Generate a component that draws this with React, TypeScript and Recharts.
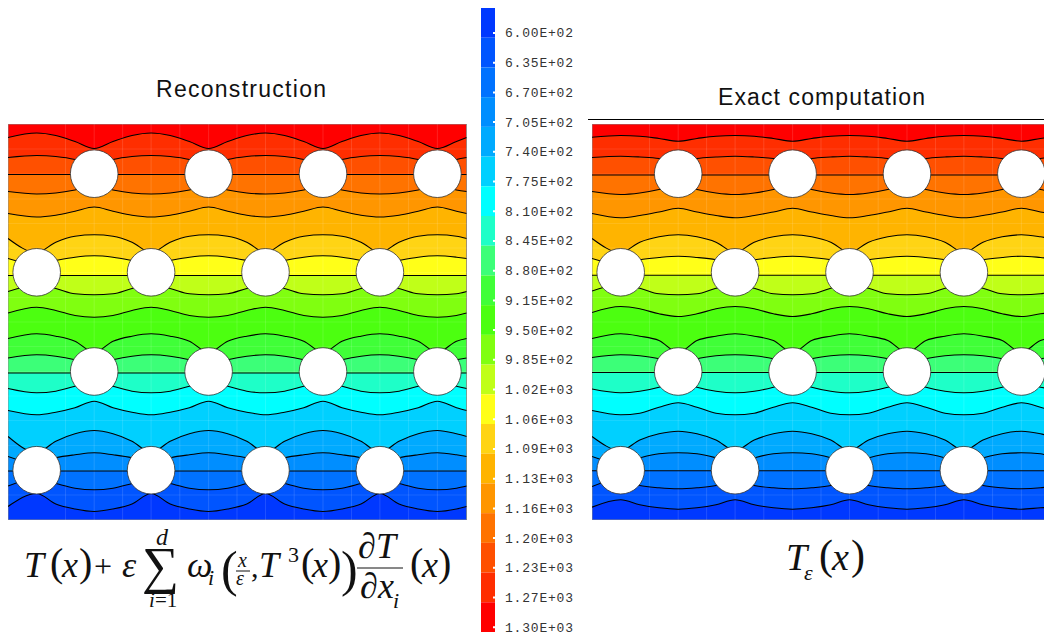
import React from "react";
import { ComposedChart, BarChart, Area, Line, Bar, Scatter, XAxis, YAxis, ReferenceArea, ReferenceLine } from "recharts";

const sampleX = [0, 28.7, 47.8, 67, 86.2, 105, 124, 143.1, 162.2, 181.4, 200.6, 219.7, 238.8, 257.5, 276.6, 295.8, 315, 334, 353, 371.9, 391, 410.2, 429.4, 448.5, 458.7];

const reconContours = [
  [137, 132.5, 135, 141, 148, 141, 135, 132.5, 135, 141, 148, 141, 135, 132.5, 135, 141, 148, 141, 135, 132.5, 135, 141, 148, 141, 137],
  [157, 155, 156, 159, 165, 159, 156, 155, 156, 159, 165, 159, 156, 155, 156, 159, 165, 159, 156, 155, 156, 159, 165, 159, 157],
  [174, 174, 174, 174, 174, 174, 174, 174, 174, 174, 174, 174, 174, 174, 174, 174, 174, 174, 174, 174, 174, 174, 174, 174, 174],
  [191, 193.5, 192.5, 189.5, 185, 189.5, 192.5, 193.5, 192.5, 189.5, 185, 189.5, 192.5, 193.5, 192.5, 189.5, 185, 189.5, 192.5, 193.5, 192.5, 189.5, 185, 189.5, 191],
  [213, 216.5, 214.7, 210.7, 206.5, 210.7, 214.7, 216.5, 214.7, 210.7, 206.5, 210.7, 214.7, 216.5, 214.7, 210.7, 206.5, 210.7, 214.7, 216.5, 214.7, 210.7, 206.5, 210.7, 213],
  [238, 252, 241.7, 235.7, 234.3, 235.7, 241.7, 252, 241.7, 235.7, 234.3, 235.7, 241.7, 252, 241.7, 235.7, 234.3, 235.7, 241.7, 252, 241.7, 235.7, 234.3, 235.7, 238],
  [258, 264, 260, 256.7, 255.3, 256.7, 260, 264, 260, 256.7, 255.3, 256.7, 260, 264, 260, 256.7, 255.3, 256.7, 260, 264, 260, 256.7, 255.3, 256.7, 258],
  [275, 275, 275, 275, 275, 275, 275, 275, 275, 275, 275, 275, 275, 275, 275, 275, 275, 275, 275, 275, 275, 275, 275, 275, 275],
  [291, 285, 288, 293.3, 294.3, 293.3, 288, 285, 288, 293.3, 294.3, 293.3, 288, 285, 288, 293.3, 294.3, 293.3, 288, 285, 288, 293.3, 294.3, 293.3, 291],
  [312.5, 306.7, 310, 315, 316.7, 315, 310, 306.7, 310, 315, 316.7, 315, 310, 306.7, 310, 315, 316.7, 315, 310, 306.7, 310, 315, 316.7, 315, 312.5],
  [338, 333.3, 335.7, 340.7, 352, 340.7, 335.7, 333.3, 335.7, 340.7, 352, 340.7, 335.7, 333.3, 335.7, 340.7, 352, 340.7, 335.7, 333.3, 335.7, 340.7, 352, 340.7, 338],
  [357.5, 354.3, 355.7, 359.3, 365, 359.3, 355.7, 354.3, 355.7, 359.3, 365, 359.3, 355.7, 354.3, 355.7, 359.3, 365, 359.3, 355.7, 354.3, 355.7, 359.3, 365, 359.3, 357.5],
  [372.5, 372.5, 372.5, 372.5, 372.5, 372.5, 372.5, 372.5, 372.5, 372.5, 372.5, 372.5, 372.5, 372.5, 372.5, 372.5, 372.5, 372.5, 372.5, 372.5, 372.5, 372.5, 372.5, 372.5, 372.5],
  [388, 392.3, 390.7, 385.7, 380, 385.7, 390.7, 392.3, 390.7, 385.7, 380, 385.7, 390.7, 392.3, 390.7, 385.7, 380, 385.7, 390.7, 392.3, 390.7, 385.7, 380, 385.7, 388],
  [410, 414.3, 411.7, 407.3, 400.7, 407.3, 411.7, 414.3, 411.7, 407.3, 400.7, 407.3, 411.7, 414.3, 411.7, 407.3, 400.7, 407.3, 411.7, 414.3, 411.7, 407.3, 400.7, 407.3, 410],
  [436, 452, 440.7, 433.3, 430, 433.3, 440.7, 452, 440.7, 433.3, 430, 433.3, 440.7, 452, 440.7, 433.3, 430, 433.3, 440.7, 452, 440.7, 433.3, 430, 433.3, 436],
  [456, 463, 457.3, 454.3, 452.3, 454.3, 457.3, 463, 457.3, 454.3, 452.3, 454.3, 457.3, 463, 457.3, 454.3, 452.3, 454.3, 457.3, 463, 457.3, 454.3, 452.3, 454.3, 456],
  [470.5, 470.5, 470.5, 470.5, 470.5, 470.5, 470.5, 470.5, 470.5, 470.5, 470.5, 470.5, 470.5, 470.5, 470.5, 470.5, 470.5, 470.5, 470.5, 470.5, 470.5, 470.5, 470.5, 470.5, 470.5],
  [485.5, 478, 483, 487.7, 489.3, 487.7, 483, 478, 483, 487.7, 489.3, 487.7, 483, 478, 483, 487.7, 489.3, 487.7, 483, 478, 483, 487.7, 489.3, 487.7, 485.5],
  [506, 493, 503.5, 508.5, 511, 508.5, 503.5, 493, 503.5, 508.5, 511, 508.5, 503.5, 493, 503.5, 508.5, 511, 508.5, 503.5, 493, 503.5, 508.5, 511, 508.5, 506],
];

const exactContours = [
  [136.7, 135, 135.7, 138, 140.7, 138, 135.7, 135, 135.7, 138, 140.7, 138, 135.7, 135, 135.7, 138, 140.7, 138, 135.7, 135, 135.7, 138, 140.7, 138, 136.7],
  [157, 155.7, 156.5, 158, 163, 158, 156.5, 155.7, 156.5, 158, 163, 158, 156.5, 155.7, 156.5, 158, 163, 158, 156.5, 155.7, 156.5, 158, 163, 158, 157],
  [174.5, 174.5, 174.5, 174.5, 174.5, 174.5, 174.5, 174.5, 174.5, 174.5, 174.5, 174.5, 174.5, 174.5, 174.5, 174.5, 174.5, 174.5, 174.5, 174.5, 174.5, 174.5, 174.5, 174.5, 174.5],
  [191, 194, 192.5, 189, 184, 189, 192.5, 194, 192.5, 189, 184, 189, 192.5, 194, 192.5, 189, 184, 189, 192.5, 194, 192.5, 189, 184, 189, 191],
  [213, 217.3, 215, 211.5, 207.7, 211.5, 215, 217.3, 215, 211.5, 207.7, 211.5, 215, 217.3, 215, 211.5, 207.7, 211.5, 215, 217.3, 215, 211.5, 207.7, 211.5, 213],
  [238, 252, 241.7, 236.3, 234.3, 236.3, 241.7, 252, 241.7, 236.3, 234.3, 236.3, 241.7, 252, 241.7, 236.3, 234.3, 236.3, 241.7, 252, 241.7, 236.3, 234.3, 236.3, 238],
  [258, 264, 259.3, 257, 255.7, 257, 259.3, 264, 259.3, 257, 255.7, 257, 259.3, 264, 259.3, 257, 255.7, 257, 259.3, 264, 259.3, 257, 255.7, 257, 258],
  [274.7, 274.7, 274.7, 274.7, 274.7, 274.7, 274.7, 274.7, 274.7, 274.7, 274.7, 274.7, 274.7, 274.7, 274.7, 274.7, 274.7, 274.7, 274.7, 274.7, 274.7, 274.7, 274.7, 274.7, 274.7],
  [290.5, 284, 287.7, 293.3, 294.3, 293.3, 287.7, 284, 287.7, 293.3, 294.3, 293.3, 287.7, 284, 287.7, 293.3, 294.3, 293.3, 287.7, 284, 287.7, 293.3, 294.3, 293.3, 290.5],
  [312, 306, 308.3, 313.3, 316, 313.3, 308.3, 306, 308.3, 313.3, 316, 313.3, 308.3, 306, 308.3, 313.3, 316, 313.3, 308.3, 306, 308.3, 313.3, 316, 313.3, 312],
  [338, 333.3, 335.7, 340, 352, 340, 335.7, 333.3, 335.7, 340, 352, 340, 335.7, 333.3, 335.7, 340, 352, 340, 335.7, 333.3, 335.7, 340, 352, 340, 338],
  [357, 354.3, 355.3, 358.3, 365, 358.3, 355.3, 354.3, 355.3, 358.3, 365, 358.3, 355.3, 354.3, 355.3, 358.3, 365, 358.3, 355.3, 354.3, 355.3, 358.3, 365, 358.3, 357],
  [372, 372, 372, 372, 372, 372, 372, 372, 372, 372, 372, 372, 372, 372, 372, 372, 372, 372, 372, 372, 372, 372, 372, 372, 372],
  [388.5, 392.3, 390.7, 386.7, 380, 386.7, 390.7, 392.3, 390.7, 386.7, 380, 386.7, 390.7, 392.3, 390.7, 386.7, 380, 386.7, 390.7, 392.3, 390.7, 386.7, 380, 386.7, 388.5],
  [410, 414.3, 412.7, 406.7, 402.3, 406.7, 412.7, 414.3, 412.7, 406.7, 402.3, 406.7, 412.7, 414.3, 412.7, 406.7, 402.3, 406.7, 412.7, 414.3, 412.7, 406.7, 402.3, 406.7, 410],
  [436, 450, 439.5, 433.3, 430.7, 433.3, 439.5, 450, 439.5, 433.3, 430.7, 433.3, 439.5, 450, 439.5, 433.3, 430.7, 433.3, 439.5, 450, 439.5, 433.3, 430.7, 433.3, 436],
  [456, 463, 457.3, 453.3, 452.3, 453.3, 457.3, 463, 457.3, 453.3, 452.3, 453.3, 457.3, 463, 457.3, 453.3, 452.3, 453.3, 457.3, 463, 457.3, 453.3, 452.3, 453.3, 456],
  [470.3, 470.3, 470.3, 470.3, 470.3, 470.3, 470.3, 470.3, 470.3, 470.3, 470.3, 470.3, 470.3, 470.3, 470.3, 470.3, 470.3, 470.3, 470.3, 470.3, 470.3, 470.3, 470.3, 470.3, 470.3],
  [486, 478, 485, 487.3, 488.3, 487.3, 485, 478, 485, 487.3, 488.3, 487.3, 485, 478, 485, 487.3, 488.3, 487.3, 485, 478, 485, 487.3, 488.3, 487.3, 486],
  [506.7, 499.3, 504.3, 507.3, 508.7, 507.3, 504.3, 499.3, 504.3, 507.3, 508.7, 507.3, 504.3, 499.3, 504.3, 507.3, 508.7, 507.3, 504.3, 499.3, 504.3, 507.3, 508.7, 507.3, 506.7],
];

// colour of each level, from the lowest label on the scale (6.00E+02) to the highest (1.30E+03)
const levelColors = ["#0038ff", "#0055ff", "#0072ff", "#008eff", "#00aaff", "#00d0ff", "#00ffff", "#1effc8", "#3cff78", "#40ff38", "#4cff10", "#80ff10", "#c0ff18", "#ffff18", "#ffd414", "#ffb400", "#ff9600", "#ff7300", "#ff5000", "#ff2e00", "#ff0000"];
const levelLabels = ["6.00E+02", "6.35E+02", "6.70E+02", "7.05E+02", "7.40E+02", "7.75E+02", "8.10E+02", "8.45E+02", "8.80E+02", "9.15E+02", "9.50E+02", "9.85E+02", "1.02E+03", "1.06E+03", "1.09E+03", "1.13E+03", "1.16E+03", "1.20E+03", "1.23E+03", "1.27E+03", "1.30E+03"];

const holeX = [
  [86.2, 200.6, 315, 429.4],
  [28.7, 143.1, 257.5, 371.9],
  [86.2, 200.6, 315, 429.4],
  [28.7, 143.1, 257.5, 371.9],
];
const holeY = [173.2, 271.8, 371, 469.7];

// faint mesh lines visible through the contour fill
const meshX = [57.5, 86.2, 114.6, 143.1, 171.8, 200.6, 229, 257.5, 286.2, 315, 343.5, 371.9, 400.6, 429.4];
const meshY = [148.5, 173.5, 198.5, 223, 247.5, 272, 297, 321.5, 346, 371, 395.5, 420, 445, 470, 494.5];

const TOP = 123.5;
const BOTTOM = 519.5;
const holes = holeX.flatMap((row, i) => row.map((x) => ({ x, y: holeY[i] })));

function HoleShape(props: any) {
  return <circle cx={props.cx} cy={props.cy} r={23.8} fill="#ffffff" stroke="#333333" strokeWidth={0.8} />;
}

function Panel({ contours, left }: { contours: number[][]; left: number }) {
  const rows = sampleX.map((x, i) => {
    const row: Record<string, number> = { x, edge: TOP };
    contours.forEach((c, k) => { row["c" + k] = c[i]; });
    return row;
  });
  const bandColors = [...levelColors].reverse();
  return (
    <div style={{ position: "absolute", left, top: TOP, width: 458.7, height: BOTTOM - TOP }}>
      <ComposedChart width={458.7} height={BOTTOM - TOP} data={rows} margin={{ top: 0, right: 0, bottom: 0, left: 0 }}>
        <XAxis dataKey="x" type="number" domain={[0, 458.7]} hide allowDataOverflow />
        <YAxis dataKey="y" type="number" domain={[TOP, BOTTOM]} reversed hide allowDataOverflow />
        <Area dataKey="edge" baseValue={BOTTOM} fill={bandColors[0]} fillOpacity={1} stroke="none" type="linear" isAnimationActive={false} dot={false} activeDot={false} />
        {contours.map((_, k) => (
          <Area key={k} dataKey={"c" + k} baseValue={BOTTOM} fill={bandColors[k + 1]} fillOpacity={1} stroke="none" type="monotone" isAnimationActive={false} dot={false} activeDot={false} />
        ))}
        {meshX.map((x) => <ReferenceLine key={"mx" + x} x={x} stroke="#ffffff" strokeOpacity={0.13} strokeWidth={1} />)}
        {meshY.map((y) => <ReferenceLine key={"my" + y} y={y} stroke="#ffffff" strokeOpacity={0.1} strokeWidth={1} />)}
        {contours.map((_, k) => (
          <Line key={k} dataKey={"c" + k} stroke="#000000" strokeWidth={1.1} type="monotone" dot={false} activeDot={false} isAnimationActive={false} />
        ))}
        <Scatter data={holes} dataKey="y" shape={HoleShape} isAnimationActive={false} />
        <ReferenceArea x1={0} x2={458.7} y1={TOP} y2={BOTTOM} fill="none" stroke="#8a8a8a" strokeWidth={1} />
      </ComposedChart>
    </div>
  );
}

const scaleRow = [Object.fromEntries(levelColors.map((_, i) => ["b" + i, 1]))];
const scaleTicks = levelLabels.map((_, i) => i + 0.84);

function ScaleTick(props: any) {
  const { x, y, payload } = props;
  const label = levelLabels[Math.floor(payload.value)];
  return (
    <g>
      <line x1={x - 10} x2={x - 8} y1={y} y2={y} stroke="#ffffff" strokeWidth={2} />
      <text x={x + 2} y={y + 4.5} fontFamily="'Liberation Mono'" fontSize={13} fill="#333333" textLength={68} lengthAdjust="spacing">{label}</text>
    </g>
  );
}

const serif = "'Liberation Serif'";
function T(p: { x: number; y: number; s: number; i?: boolean; c: string }) {
  return <text x={p.x} y={p.y} fontFamily={serif} fontSize={p.s} fontStyle={p.i ? "italic" : "normal"} fill="#111111">{p.c}</text>;
}

export default function App() {
  return (
    <div style={{ position: "absolute", left: 0, top: 0, width: 1044, height: 636, overflow: "hidden", background: "#ffffff" }}>
      <Panel contours={reconContours} left={8.3} />
      <Panel contours={exactContours} left={592} />
      <div style={{ position: "absolute", left: 481, top: 8 }}>
        <BarChart width={104} height={628} data={scaleRow} margin={{ top: 0, right: 0, bottom: 4, left: 0 }} barCategoryGap={0}>
          <XAxis type="category" hide />
          <YAxis type="number" orientation="right" width={90} domain={[0, 21]} reversed ticks={scaleTicks} interval={0} tick={ScaleTick} axisLine={false} tickLine={false} allowDataOverflow />
          {levelColors.map((c, i) => (
            <Bar key={i} dataKey={"b" + i} stackId="scale" fill={c} isAnimationActive={false} />
          ))}
        </BarChart>
      </div>
      <svg width={1044} height={636} style={{ position: "absolute", left: 0, top: 0, pointerEvents: "none" }}>
        <text x={156} y={97} fontFamily="'Liberation Sans'" fontSize={23} fill="#111111" textLength={170}>Reconstruction</text>
        <text x={718} y={105} fontFamily="'Liberation Sans'" fontSize={23} fill="#111111" textLength={207}>Exact computation</text>
        <line x1={588} x2={1044} y1={119.5} y2={119.5} stroke="#000000" strokeWidth={1} />

        <T x={24} y={577} s={36} i c="T" />
        <T x={50} y={576} s={40} c="(" />
        <T x={62} y={577} s={36} i c="x" />
        <T x={79} y={576} s={40} c=")" />
        <T x={94} y={577} s={32} c="+" />
        <T x={122} y={577} s={36} i c="ε" />
        <T x={142} y={583} s={52} c="∑" />
        <T x={156} y={545} s={24} i c="d" />
        <T x={149} y={607} s={21} i c="i" />
        <T x={155} y={607} s={21} c="=1" />
        <T x={187} y={577} s={36} i c="ω" />
        <T x={208} y={585} s={22} i c="i" />
        <T x={221} y={586} s={50} c="(" />
        <T x={238} y={567} s={20} i c="x" />
        <line x1={236} x2={250} y1={571} y2={571} stroke="#111111" strokeWidth={1} />
        <T x={236} y={585} s={20} i c="ε" />
        <T x={251} y={577} s={30} c="," />
        <T x={259} y={577} s={36} i c="T" />
        <T x={288} y={562} s={22} c="3" />
        <T x={301} y={576} s={40} c="(" />
        <T x={312} y={577} s={36} i c="x" />
        <T x={328} y={576} s={40} c=")" />
        <T x={341} y={586} s={50} c=")" />
        <T x={358} y={558} s={36} i c="∂" />
        <T x={376} y={558} s={36} i c="T" />
        <line x1={357} x2={403} y1={568} y2={568} stroke="#111111" strokeWidth={1} />
        <T x={360} y={598} s={36} i c="∂" />
        <T x={378} y={598} s={36} i c="x" />
        <T x={393} y={608} s={22} i c="i" />
        <T x={410} y={576} s={40} c="(" />
        <T x={422} y={577} s={36} i c="x" />
        <T x={438} y={576} s={40} c=")" />

        <T x={786} y={570} s={38} i c="T" />
        <T x={804} y={580} s={22} i c="ε" />
        <T x={819} y={569} s={42} c="(" />
        <T x={832} y={570} s={38} i c="x" />
        <T x={851} y={569} s={42} c=")" />
      </svg>
    </div>
  );
}
